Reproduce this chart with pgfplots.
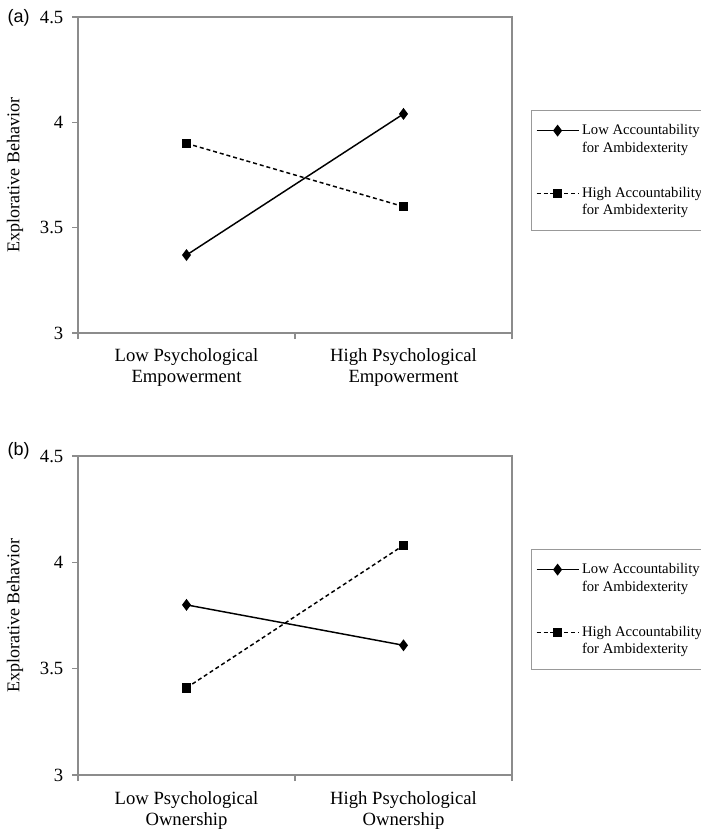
\documentclass[border=0pt]{standalone}
\usepackage{pgfplots}
\pgfplotsset{compat=1.18}
\usepackage{fontspec}
\setmainfont{Liberation Serif}
\newfontfamily\arial{Liberation Sans}
\begin{document}
\begin{tikzpicture}
\pgfplotsset{
  myax/.style={
    width=325.5pt, height=237pt, scale only axis,
    xmin=-0.5, xmax=1.5, ymin=3, ymax=4.5,
    ytick={3,3.5,4,4.5},
    yticklabels={3,3.5,4,4.5},
    xtick={-0.5,0.5,1.5}, xticklabels={},
    extra x ticks={0,1},
    extra x tick style={major tick length=0pt},
    xtick pos=bottom, ytick pos=left,
    xticklabel style={align=center, font=\fontsize{14}{15.75}\selectfont, yshift=-8.5pt},
    yticklabel style={font=\fontsize{14}{16}\selectfont, xshift=-3pt},
    tick align=outside, major tick length=4.5pt,
    tick style={draw=gray!90, line width=1pt},
    axis line style={draw=gray!90, line width=1.1pt},
    ylabel={Explorative Behavior},
    every axis y label/.style={at={(axis description cs:-0.1452,0.5)}, rotate=90, anchor=center, font=\fontsize{13.5}{15}\selectfont},
    legend style={at={(1,1)}, anchor=north west, xshift=14.5pt, yshift=-69.75pt,
      draw=gray!80, line width=0.8pt, font=\fontsize{11}{13}\selectfont,
      cells={align=left, anchor=west}, row sep=21pt, inner xsep=3pt, inner ysep=8.5pt},
    legend image code/.code={
      \draw[mark repeat=2, mark phase=2, #1] plot coordinates {(0pt,6.5pt) (15.75pt,6.5pt) (31.5pt,6.5pt)};
    },
  },
  lowacc/.style={black, line width=1.1pt, mark=diamond*, mark size=3.6pt, mark options={solid, fill=black}},
  highacc/.style={black, line width=1.1pt, dashed, dash pattern=on 3pt off 2.2pt, mark=square*, mark size=3pt, mark options={solid, fill=black}},
}
% panel (a)
\begin{axis}[myax, at={(58.5pt,-12.75pt)}, anchor=north west,
  extra x tick labels={Low Psychological\\Empowerment, High Psychological\\Empowerment}]
\addplot[lowacc] coordinates {(0,3.37) (1,4.04)};
\addlegendentry{Low Accountability\\for Ambidexterity}
\addplot[highacc] coordinates {(0,3.90) (1,3.60)};
\addlegendentry{High Accountability\\for Ambidexterity}
\end{axis}
\node[font=\arial\fontsize{13.5}{15}\selectfont, anchor=west] at (2.25pt,-13.5pt) {(a)};
% panel (b)
\begin{axis}[myax, at={(58.5pt,-342pt)}, anchor=north west, height=239.25pt,
  extra x tick labels={Low Psychological\\Ownership, High Psychological\\Ownership}]
\addplot[lowacc] coordinates {(0,3.80) (1,3.61)};
\addlegendentry{Low Accountability\\for Ambidexterity}
\addplot[highacc] coordinates {(0,3.41) (1,4.08)};
\addlegendentry{High Accountability\\for Ambidexterity}
\end{axis}
\node[font=\arial\fontsize{13.5}{15}\selectfont, anchor=west] at (2.25pt,-338.25pt) {(b)};
\pgfresetboundingbox
\path[use as bounding box] (0pt,0pt) rectangle (525pt,-625.5pt);
\end{tikzpicture}
\end{document}
